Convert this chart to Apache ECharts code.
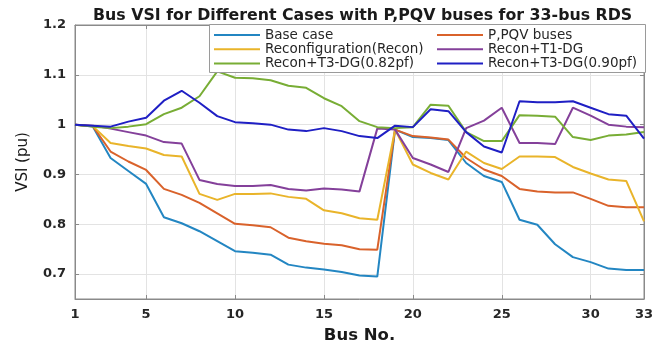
<!DOCTYPE html>
<html>
<head>
<meta charset="utf-8">
<script src="https://cdn.jsdelivr.net/npm/echarts@6/dist/echarts.min.js"></script>
<style>
html,body{margin:0;padding:0;background:#fff;}
#c{width:670px;height:349px;}
</style>
</head>
<body>
<div id="c"></div>
<script>
const buses = [1,2,3,4,5,6,7,8,9,10,11,12,13,14,15,16,17,18,19,20,21,22,23,24,25,26,27,28,29,30,31,32,33];
const xTicks = [1,5,10,15,20,25,30,33];
const yTicks = [0.7,0.8,0.9,1,1.1,1.2];
const seriesNames = ['Base case','P,PQV buses','Reconfiguration(Recon)','Recon+T1-DG','Recon+T3-DG(0.82pf)','Recon+T3-DG(0.90pf)'];
const baseCase = [1.000,0.996,0.933,0.907,0.881,0.814,0.802,0.786,0.766,0.746,0.743,0.739,0.719,0.713,0.709,0.704,0.697,0.695,0.990,0.975,0.973,0.969,0.923,0.897,0.885,0.809,0.799,0.760,0.734,0.724,0.711,0.708,0.708];
const ppqvBuses = [1.000,0.997,0.946,0.926,0.909,0.871,0.859,0.843,0.822,0.801,0.798,0.794,0.773,0.766,0.761,0.758,0.750,0.749,0.990,0.977,0.974,0.970,0.933,0.910,0.897,0.871,0.866,0.864,0.864,0.851,0.837,0.834,0.834];
const recon = [1.000,0.997,0.963,0.957,0.952,0.939,0.936,0.861,0.849,0.861,0.861,0.862,0.855,0.851,0.828,0.822,0.812,0.809,0.990,0.920,0.903,0.890,0.946,0.923,0.911,0.936,0.936,0.935,0.915,0.902,0.890,0.887,0.806];
const reconT1 = [1.000,0.998,0.992,0.985,0.978,0.965,0.962,0.889,0.881,0.877,0.877,0.879,0.871,0.868,0.872,0.870,0.866,0.992,0.990,0.933,0.920,0.905,0.993,1.008,1.034,0.963,0.963,0.961,1.034,1.018,1.000,0.996,0.995];
const reconT3_082 = [1.000,0.996,0.993,0.996,1.001,1.021,1.034,1.057,1.107,1.094,1.093,1.089,1.078,1.074,1.053,1.037,1.007,0.995,0.993,0.995,1.040,1.038,0.985,0.967,0.967,1.019,1.018,1.016,0.975,0.969,0.978,0.980,0.985];
const reconT3_090 = [1.000,0.998,0.996,1.006,1.014,1.048,1.068,1.044,1.017,1.005,1.003,1.000,0.990,0.987,0.993,0.987,0.977,0.973,0.998,0.995,1.031,1.027,0.985,0.956,0.944,1.047,1.045,1.045,1.047,1.034,1.021,1.018,0.972];

const values = [baseCase, ppqvBuses, recon, reconT1, reconT3_082, reconT3_090];
const colors = ['#2386c2','#d9622b','#e9b42a','#84409a','#78ad35','#1f1fc4'];

const chart = echarts.init(document.getElementById('c'));
const axisColor = '#8a8a8a';
const gridColor = '#e3e3e3';
const tickFont = {fontFamily:'DejaVu Sans', fontWeight:'bold', fontSize:13, color:'#262626'};

const legendCommon = {
  orient:'vertical', itemWidth:46, itemHeight:14, itemGap:0.3, padding:0, z:10,
  itemStyle:{opacity:0},
  textStyle:{fontFamily:'DejaVu Sans', fontSize:13.5, color:'#262626', lineHeight:14}
};

chart.setOption({
  animation:false,
  title:{
    text:'Bus VSI for Different Cases with P,PQV buses for 33-bus RDS',
    left:88, top:3,
    textStyle:{fontFamily:'DejaVu Sans', fontWeight:'bold', fontSize:15.8, color:'#1a1a1a'}
  },
  graphic:[{
    type:'rect', z:9, left:209, top:24,
    shape:{width:436, height:48},
    style:{fill:'#fff', stroke:'#9a9a9a', lineWidth:1}
  }],
  legend:[
    Object.assign({left:213, top:28, data:[seriesNames[0],seriesNames[2],seriesNames[4]]}, legendCommon),
    Object.assign({left:436, top:28, data:[seriesNames[1],seriesNames[3],seriesNames[5]]}, legendCommon)
  ],
  grid:{left:75, right:26, top:25, bottom:44, show:true, borderColor:axisColor, borderWidth:1, containLabel:false},
  xAxis:[{
    type:'value', min:1, max:33, position:'bottom',
    name:'Bus No.', nameLocation:'middle', nameGap:28,
    nameTextStyle:{fontFamily:'DejaVu Sans', fontWeight:'bold', fontSize:16.5, color:'#1a1a1a'},
    axisLine:{show:true, onZero:false, lineStyle:{color:axisColor}},
    axisTick:{show:true, inside:true, length:4, customValues:xTicks, lineStyle:{color:axisColor}},
    axisLabel:Object.assign({customValues:xTicks, margin:9}, tickFont),
    splitLine:{show:true, lineStyle:{color:gridColor}}
  },{
    type:'value', min:1, max:33, position:'top',
    axisLine:{show:true, onZero:false, lineStyle:{color:axisColor}},
    axisTick:{show:true, inside:true, length:4, customValues:xTicks, lineStyle:{color:axisColor}},
    axisLabel:{show:false, customValues:xTicks},
    splitLine:{show:false}
  }],
  yAxis:[{
    type:'value', min:0.65, max:1.2, position:'left',
    name:'VSI (pu)', nameLocation:'middle', nameGap:44, nameRotate:90,
    nameTextStyle:{fontFamily:'DejaVu Sans', fontSize:15, color:'#1a1a1a'},
    axisLine:{show:true, onZero:false, lineStyle:{color:axisColor}},
    axisTick:{show:true, inside:true, length:4, customValues:yTicks, lineStyle:{color:axisColor}},
    axisLabel:Object.assign({customValues:yTicks, margin:9}, tickFont),
    splitLine:{show:true, lineStyle:{color:gridColor}}
  },{
    type:'value', min:0.65, max:1.2, position:'right',
    axisLine:{show:true, onZero:false, lineStyle:{color:axisColor}},
    axisTick:{show:true, inside:true, length:4, customValues:yTicks, lineStyle:{color:axisColor}},
    axisLabel:{show:false, customValues:yTicks},
    splitLine:{show:false}
  }],
  series: seriesNames.map((n,i)=>({
    name:n, type:'line', symbol:'none', showSymbol:false,
    xAxisIndex:0, yAxisIndex:0,
    color:colors[i],
    lineStyle:{width:2, color:colors[i]},
    data: buses.map((b,k)=>[b, values[i][k]])
  }))
});
</script>
</body>
</html>
